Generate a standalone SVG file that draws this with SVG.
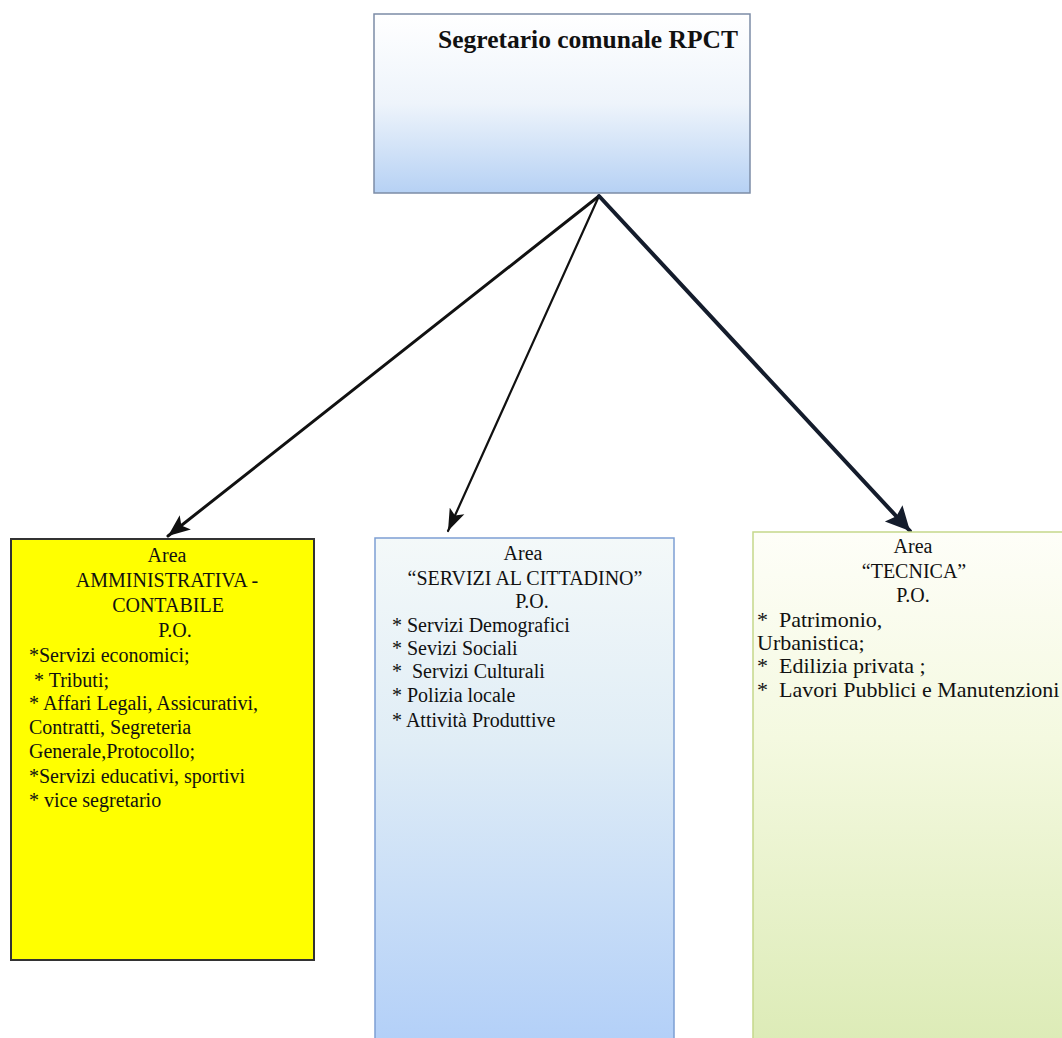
<svg xmlns="http://www.w3.org/2000/svg" width="1062" height="1038" viewBox="0 0 1062 1038">
<defs>
<linearGradient id="gTop" x1="0" y1="0" x2="0" y2="1">
<stop offset="0" stop-color="#ffffff"/>
<stop offset="0.5" stop-color="#eef4fb"/>
<stop offset="1" stop-color="#b6d1f4"/>
</linearGradient>
<linearGradient id="gMid" x1="0" y1="0" x2="0" y2="1">
<stop offset="0" stop-color="#f4f9f9"/>
<stop offset="0.4" stop-color="#e0edf6"/>
<stop offset="1" stop-color="#b2cff8"/>
</linearGradient>
<linearGradient id="gRight" x1="0" y1="0" x2="0" y2="1">
<stop offset="0" stop-color="#fefef8"/>
<stop offset="0.4" stop-color="#f4f9e0"/>
<stop offset="1" stop-color="#dcebb6"/>
</linearGradient>
<marker id="ahL" markerUnits="userSpaceOnUse" markerWidth="24" markerHeight="20" refX="22" refY="10" orient="auto">
<path d="M0,1 L22,10 L0,19 L5,10 Z" fill="#111"/>
</marker>
<marker id="ahM" markerUnits="userSpaceOnUse" markerWidth="24" markerHeight="18" refX="22" refY="9" orient="auto">
<path d="M0,1 L22,9 L0,17 L5,9 Z" fill="#111"/>
</marker>
<marker id="ahR" markerUnits="userSpaceOnUse" markerWidth="26" markerHeight="26" refX="24" refY="13" orient="auto">
<path d="M0,1 L24,13 L0,25 L4,13 Z" fill="#141c2c"/>
</marker>
</defs>
<style>
.t{font-family:"Liberation Serif","Times New Roman",serif;font-size:20px;fill:#111}
.b{font-size:22px}
.c{text-anchor:middle}
.title{font-family:"Liberation Serif","Times New Roman",serif;font-size:25.5px;font-weight:bold;fill:#111;text-anchor:middle}
.conn{fill:none;stroke-linecap:round}
</style>
<rect width="1062" height="1038" fill="#ffffff"/>
<g id="connectors">
<line class="conn" x1="599" y1="196" x2="168" y2="536" stroke="#111" stroke-width="3" marker-end="url(#ahL)"/>
<line class="conn" x1="599" y1="196" x2="448" y2="531" stroke="#111" stroke-width="2.2" marker-end="url(#ahM)"/>
<line class="conn" x1="599" y1="196" x2="910" y2="531" stroke="#141c2c" stroke-width="4" marker-end="url(#ahR)"/>
</g>
<g id="node-segretario">
<rect x="374" y="14" width="376" height="179" fill="url(#gTop)" stroke="#7c8ca6" stroke-width="1.5"/>
<text class="title" x="588" y="48">Segretario comunale RPCT</text>
</g>
<g id="node-amministrativa">
<rect x="11" y="539" width="303" height="421" fill="#ffff00" stroke="#333" stroke-width="2"/>
<text class="t c" x="167" y="562">Area</text>
<text class="t c" x="167" y="587">AMMINISTRATIVA -</text>
<text class="t c" x="168" y="612">CONTABILE</text>
<text class="t c" x="175" y="637">P.O.</text>
<text class="t" x="29" y="662">*Servizi economici;</text>
<text class="t" x="29" y="687" xml:space="preserve"> * Tributi;</text>
<text class="t" x="29" y="710">* Affari Legali, Assicurativi,</text>
<text class="t" x="29" y="734">Contratti, Segreteria</text>
<text class="t" x="29" y="758">Generale,Protocollo;</text>
<text class="t" x="29" y="783">*Servizi educativi, sportivi</text>
<text class="t" x="29" y="807">* vice segretario</text>
</g>
<g id="node-servizi">
<rect x="375" y="538" width="299" height="510" fill="url(#gMid)" stroke="#7d9fd3" stroke-width="1.5"/>
<text class="t c" x="523" y="560">Area</text>
<text class="t c" x="525" y="585">“SERVIZI AL CITTADINO”</text>
<text class="t c" x="532" y="608">P.O.</text>
<text class="t" x="392" y="632">* Servizi Demografici</text>
<text class="t" x="392" y="655">* Sevizi Sociali</text>
<text class="t" x="392" y="678" xml:space="preserve">*  Servizi Culturali</text>
<text class="t" x="392" y="702">* Polizia locale</text>
<text class="t" x="392" y="727">* Attività Produttive</text>
</g>
<g id="node-tecnica">
<rect x="753" y="532" width="320" height="516" fill="url(#gRight)" stroke="#c5d88a" stroke-width="1.5"/>
<text class="t c" x="913" y="553">Area</text>
<text class="t c" x="914" y="578">“TECNICA”</text>
<text class="t c" x="913" y="602">P.O.</text>
<text class="t b" x="757" y="627" xml:space="preserve">*  Patrimonio,</text>
<text class="t b" x="757" y="650">Urbanistica;</text>
<text class="t b" x="757" y="673" xml:space="preserve">*  Edilizia privata ;</text>
<text class="t b" x="757" y="697" xml:space="preserve">*  Lavori Pubblici e Manutenzioni</text>
</g>
</svg>
